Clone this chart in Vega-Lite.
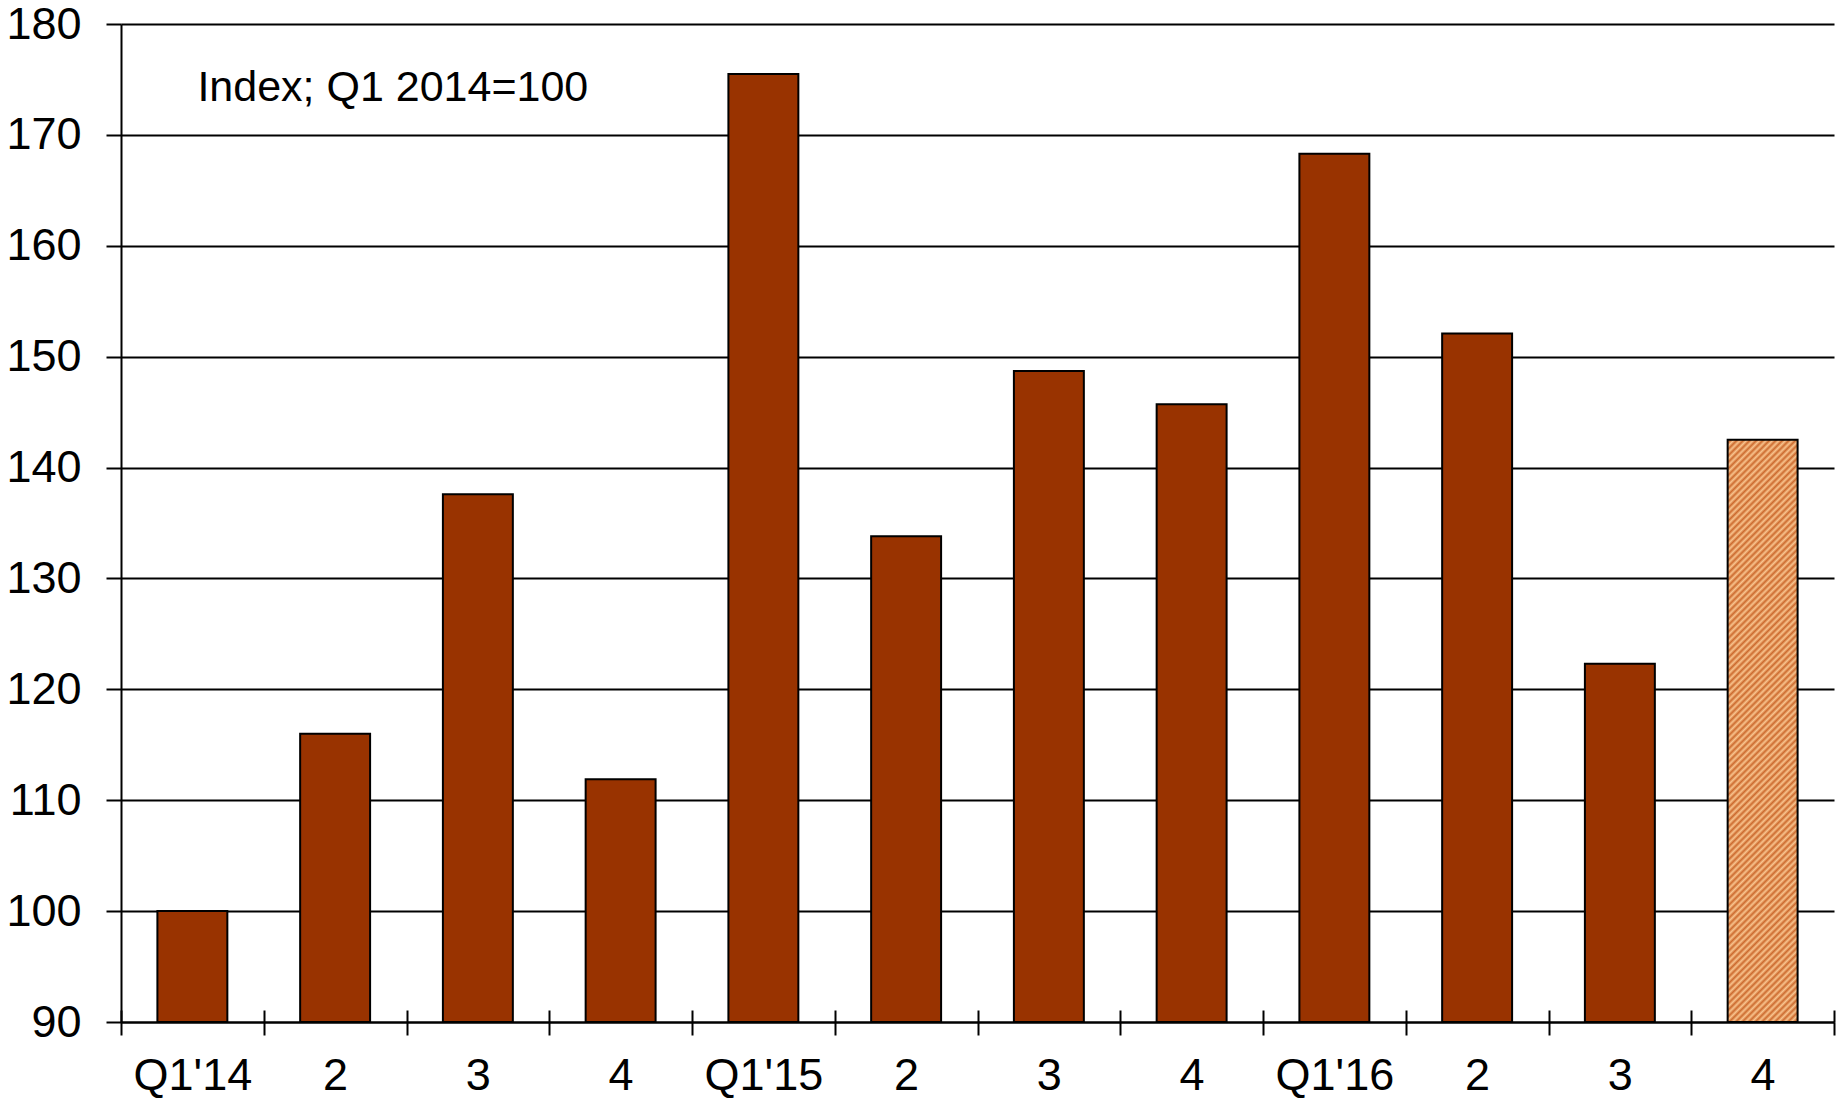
{
  "$schema": "https://vega.github.io/schema/vega-lite/v6.json",
  "width": 1713,
  "height": 998,
  "autosize": {"type": "none"},
  "padding": {"left": 121, "top": 24, "right": 2, "bottom": 79},
  "background": "white",
  "config": {
    "font": "Liberation Sans",
    "view": {"stroke": null}
  },
  "data": {
    "values": [
      {"q": "2014-1", "value": 100, "type": "a"},
      {"q": "2014-2", "value": 116, "type": "a"},
      {"q": "2014-3", "value": 137.6, "type": "a"},
      {"q": "2014-4", "value": 111.9, "type": "a"},
      {"q": "2015-1", "value": 175.5, "type": "a"},
      {"q": "2015-2", "value": 133.8, "type": "a"},
      {"q": "2015-3", "value": 148.7, "type": "a"},
      {"q": "2015-4", "value": 145.7, "type": "a"},
      {"q": "2016-1", "value": 168.3, "type": "a"},
      {"q": "2016-2", "value": 152.1, "type": "a"},
      {"q": "2016-3", "value": 122.3, "type": "a"},
      {"q": "2016-4", "value": 142.5, "type": "f"}
    ]
  },
  "resolve": {"axis": {"x": "independent"}},
  "layer": [
    {
      "transform": [{"filter": "datum.type == 'a'"}],
      "mark": {"type": "bar", "fill": "#993300", "stroke": "black", "strokeWidth": 2, "width": {"band": 0.49}},
      "encoding": {
        "x": {
          "field": "q",
          "type": "nominal",
          "sort": null,
          "scale": {"paddingInner": 0, "paddingOuter": 0},
          "axis": {
            "title": null,
            "orient": "bottom",
            "labelAngle": 0,
            "tickBand": "extent",
            "tickSize": 13,
            "tickWidth": 2,
            "tickColor": "black",
            "domainColor": "black",
            "domainWidth": 2,
            "labelFontSize": 45,
            "labelColor": "black",
            "labelPadding": 18,
            "grid": false,
            "labelExpr": "!isString(datum.value) ? '' : (substring(datum.value,5,6) == '1' ? \"Q1'\" + substring(datum.value,2,4) : substring(datum.value,5,6))"
          }
        },
        "y": {
          "field": "value",
          "type": "quantitative",
          "scale": {"domain": [90, 180], "zero": false, "nice": false},
          "axis": {
            "title": null,
            "values": [90, 100, 110, 120, 130, 140, 150, 160, 170, 180],
            "tickSize": 15,
            "tickWidth": 2,
            "tickColor": "black",
            "domainColor": "black",
            "domainWidth": 2,
            "grid": true,
            "gridColor": "black",
            "gridWidth": 2,
            "labelFontSize": 45,
            "labelColor": "black",
            "labelPadding": 25
          }
        },
        "y2": {"datum": 90}
      }
    },
    {
      "transform": [{"filter": "datum.type == 'f'"}],
      "mark": {
        "type": "bar",
        "stroke": "black",
        "strokeWidth": 2,
        "width": {"band": 0.49},
        "fill": {
          "gradient": "linear",
          "x1": 0, "y1": 0, "x2": 0.1328, "y2": 1.1043,
          "stops": [
            {"offset": 0, "color": "#f9c48e"}, {"offset": 0.005, "color": "#cc6a2e"},
            {"offset": 0.01, "color": "#f9c48e"}, {"offset": 0.015, "color": "#cc6a2e"},
            {"offset": 0.02, "color": "#f9c48e"}, {"offset": 0.025, "color": "#cc6a2e"},
            {"offset": 0.03, "color": "#f9c48e"}, {"offset": 0.035, "color": "#cc6a2e"},
            {"offset": 0.04, "color": "#f9c48e"}, {"offset": 0.045, "color": "#cc6a2e"},
            {"offset": 0.05, "color": "#f9c48e"}, {"offset": 0.055, "color": "#cc6a2e"},
            {"offset": 0.06, "color": "#f9c48e"}, {"offset": 0.065, "color": "#cc6a2e"},
            {"offset": 0.07, "color": "#f9c48e"}, {"offset": 0.075, "color": "#cc6a2e"},
            {"offset": 0.08, "color": "#f9c48e"}, {"offset": 0.085, "color": "#cc6a2e"},
            {"offset": 0.09, "color": "#f9c48e"}, {"offset": 0.095, "color": "#cc6a2e"},
            {"offset": 0.1, "color": "#f9c48e"}, {"offset": 0.105, "color": "#cc6a2e"},
            {"offset": 0.11, "color": "#f9c48e"}, {"offset": 0.115, "color": "#cc6a2e"},
            {"offset": 0.12, "color": "#f9c48e"}, {"offset": 0.125, "color": "#cc6a2e"},
            {"offset": 0.13, "color": "#f9c48e"}, {"offset": 0.135, "color": "#cc6a2e"},
            {"offset": 0.14, "color": "#f9c48e"}, {"offset": 0.145, "color": "#cc6a2e"},
            {"offset": 0.15, "color": "#f9c48e"}, {"offset": 0.155, "color": "#cc6a2e"},
            {"offset": 0.16, "color": "#f9c48e"}, {"offset": 0.165, "color": "#cc6a2e"},
            {"offset": 0.17, "color": "#f9c48e"}, {"offset": 0.175, "color": "#cc6a2e"},
            {"offset": 0.18, "color": "#f9c48e"}, {"offset": 0.185, "color": "#cc6a2e"},
            {"offset": 0.19, "color": "#f9c48e"}, {"offset": 0.195, "color": "#cc6a2e"},
            {"offset": 0.2, "color": "#f9c48e"}, {"offset": 0.205, "color": "#cc6a2e"},
            {"offset": 0.21, "color": "#f9c48e"}, {"offset": 0.215, "color": "#cc6a2e"},
            {"offset": 0.22, "color": "#f9c48e"}, {"offset": 0.225, "color": "#cc6a2e"},
            {"offset": 0.23, "color": "#f9c48e"}, {"offset": 0.235, "color": "#cc6a2e"},
            {"offset": 0.24, "color": "#f9c48e"}, {"offset": 0.245, "color": "#cc6a2e"},
            {"offset": 0.25, "color": "#f9c48e"}, {"offset": 0.255, "color": "#cc6a2e"},
            {"offset": 0.26, "color": "#f9c48e"}, {"offset": 0.265, "color": "#cc6a2e"},
            {"offset": 0.27, "color": "#f9c48e"}, {"offset": 0.275, "color": "#cc6a2e"},
            {"offset": 0.28, "color": "#f9c48e"}, {"offset": 0.285, "color": "#cc6a2e"},
            {"offset": 0.29, "color": "#f9c48e"}, {"offset": 0.295, "color": "#cc6a2e"},
            {"offset": 0.3, "color": "#f9c48e"}, {"offset": 0.305, "color": "#cc6a2e"},
            {"offset": 0.31, "color": "#f9c48e"}, {"offset": 0.315, "color": "#cc6a2e"},
            {"offset": 0.32, "color": "#f9c48e"}, {"offset": 0.325, "color": "#cc6a2e"},
            {"offset": 0.33, "color": "#f9c48e"}, {"offset": 0.335, "color": "#cc6a2e"},
            {"offset": 0.34, "color": "#f9c48e"}, {"offset": 0.345, "color": "#cc6a2e"},
            {"offset": 0.35, "color": "#f9c48e"}, {"offset": 0.355, "color": "#cc6a2e"},
            {"offset": 0.36, "color": "#f9c48e"}, {"offset": 0.365, "color": "#cc6a2e"},
            {"offset": 0.37, "color": "#f9c48e"}, {"offset": 0.375, "color": "#cc6a2e"},
            {"offset": 0.38, "color": "#f9c48e"}, {"offset": 0.385, "color": "#cc6a2e"},
            {"offset": 0.39, "color": "#f9c48e"}, {"offset": 0.395, "color": "#cc6a2e"},
            {"offset": 0.4, "color": "#f9c48e"}, {"offset": 0.405, "color": "#cc6a2e"},
            {"offset": 0.41, "color": "#f9c48e"}, {"offset": 0.415, "color": "#cc6a2e"},
            {"offset": 0.42, "color": "#f9c48e"}, {"offset": 0.425, "color": "#cc6a2e"},
            {"offset": 0.43, "color": "#f9c48e"}, {"offset": 0.435, "color": "#cc6a2e"},
            {"offset": 0.44, "color": "#f9c48e"}, {"offset": 0.445, "color": "#cc6a2e"},
            {"offset": 0.45, "color": "#f9c48e"}, {"offset": 0.455, "color": "#cc6a2e"},
            {"offset": 0.46, "color": "#f9c48e"}, {"offset": 0.465, "color": "#cc6a2e"},
            {"offset": 0.47, "color": "#f9c48e"}, {"offset": 0.475, "color": "#cc6a2e"},
            {"offset": 0.48, "color": "#f9c48e"}, {"offset": 0.485, "color": "#cc6a2e"},
            {"offset": 0.49, "color": "#f9c48e"}, {"offset": 0.495, "color": "#cc6a2e"},
            {"offset": 0.5, "color": "#f9c48e"}, {"offset": 0.505, "color": "#cc6a2e"},
            {"offset": 0.51, "color": "#f9c48e"}, {"offset": 0.515, "color": "#cc6a2e"},
            {"offset": 0.52, "color": "#f9c48e"}, {"offset": 0.525, "color": "#cc6a2e"},
            {"offset": 0.53, "color": "#f9c48e"}, {"offset": 0.535, "color": "#cc6a2e"},
            {"offset": 0.54, "color": "#f9c48e"}, {"offset": 0.545, "color": "#cc6a2e"},
            {"offset": 0.55, "color": "#f9c48e"}, {"offset": 0.555, "color": "#cc6a2e"},
            {"offset": 0.56, "color": "#f9c48e"}, {"offset": 0.565, "color": "#cc6a2e"},
            {"offset": 0.57, "color": "#f9c48e"}, {"offset": 0.575, "color": "#cc6a2e"},
            {"offset": 0.58, "color": "#f9c48e"}, {"offset": 0.585, "color": "#cc6a2e"},
            {"offset": 0.59, "color": "#f9c48e"}, {"offset": 0.595, "color": "#cc6a2e"},
            {"offset": 0.6, "color": "#f9c48e"}, {"offset": 0.605, "color": "#cc6a2e"},
            {"offset": 0.61, "color": "#f9c48e"}, {"offset": 0.615, "color": "#cc6a2e"},
            {"offset": 0.62, "color": "#f9c48e"}, {"offset": 0.625, "color": "#cc6a2e"},
            {"offset": 0.63, "color": "#f9c48e"}, {"offset": 0.635, "color": "#cc6a2e"},
            {"offset": 0.64, "color": "#f9c48e"}, {"offset": 0.645, "color": "#cc6a2e"},
            {"offset": 0.65, "color": "#f9c48e"}, {"offset": 0.655, "color": "#cc6a2e"},
            {"offset": 0.66, "color": "#f9c48e"}, {"offset": 0.665, "color": "#cc6a2e"},
            {"offset": 0.67, "color": "#f9c48e"}, {"offset": 0.675, "color": "#cc6a2e"},
            {"offset": 0.68, "color": "#f9c48e"}, {"offset": 0.685, "color": "#cc6a2e"},
            {"offset": 0.69, "color": "#f9c48e"}, {"offset": 0.695, "color": "#cc6a2e"},
            {"offset": 0.7, "color": "#f9c48e"}, {"offset": 0.705, "color": "#cc6a2e"},
            {"offset": 0.71, "color": "#f9c48e"}, {"offset": 0.715, "color": "#cc6a2e"},
            {"offset": 0.72, "color": "#f9c48e"}, {"offset": 0.725, "color": "#cc6a2e"},
            {"offset": 0.73, "color": "#f9c48e"}, {"offset": 0.735, "color": "#cc6a2e"},
            {"offset": 0.74, "color": "#f9c48e"}, {"offset": 0.745, "color": "#cc6a2e"},
            {"offset": 0.75, "color": "#f9c48e"}, {"offset": 0.755, "color": "#cc6a2e"},
            {"offset": 0.76, "color": "#f9c48e"}, {"offset": 0.765, "color": "#cc6a2e"},
            {"offset": 0.77, "color": "#f9c48e"}, {"offset": 0.775, "color": "#cc6a2e"},
            {"offset": 0.78, "color": "#f9c48e"}, {"offset": 0.785, "color": "#cc6a2e"},
            {"offset": 0.79, "color": "#f9c48e"}, {"offset": 0.795, "color": "#cc6a2e"},
            {"offset": 0.8, "color": "#f9c48e"}, {"offset": 0.805, "color": "#cc6a2e"},
            {"offset": 0.81, "color": "#f9c48e"}, {"offset": 0.815, "color": "#cc6a2e"},
            {"offset": 0.82, "color": "#f9c48e"}, {"offset": 0.825, "color": "#cc6a2e"},
            {"offset": 0.83, "color": "#f9c48e"}, {"offset": 0.835, "color": "#cc6a2e"},
            {"offset": 0.84, "color": "#f9c48e"}, {"offset": 0.845, "color": "#cc6a2e"},
            {"offset": 0.85, "color": "#f9c48e"}, {"offset": 0.855, "color": "#cc6a2e"},
            {"offset": 0.86, "color": "#f9c48e"}, {"offset": 0.865, "color": "#cc6a2e"},
            {"offset": 0.87, "color": "#f9c48e"}, {"offset": 0.875, "color": "#cc6a2e"},
            {"offset": 0.88, "color": "#f9c48e"}, {"offset": 0.885, "color": "#cc6a2e"},
            {"offset": 0.89, "color": "#f9c48e"}, {"offset": 0.895, "color": "#cc6a2e"},
            {"offset": 0.9, "color": "#f9c48e"}, {"offset": 0.905, "color": "#cc6a2e"},
            {"offset": 0.91, "color": "#f9c48e"}, {"offset": 0.915, "color": "#cc6a2e"},
            {"offset": 0.92, "color": "#f9c48e"}, {"offset": 0.925, "color": "#cc6a2e"},
            {"offset": 0.93, "color": "#f9c48e"}, {"offset": 0.935, "color": "#cc6a2e"},
            {"offset": 0.94, "color": "#f9c48e"}, {"offset": 0.945, "color": "#cc6a2e"},
            {"offset": 0.95, "color": "#f9c48e"}, {"offset": 0.955, "color": "#cc6a2e"},
            {"offset": 0.96, "color": "#f9c48e"}, {"offset": 0.965, "color": "#cc6a2e"},
            {"offset": 0.97, "color": "#f9c48e"}, {"offset": 0.975, "color": "#cc6a2e"},
            {"offset": 0.98, "color": "#f9c48e"}, {"offset": 0.985, "color": "#cc6a2e"},
            {"offset": 0.99, "color": "#f9c48e"}, {"offset": 0.995, "color": "#cc6a2e"},
            {"offset": 1, "color": "#f9c48e"}
          ]
        }
      },
      "encoding": {
        "x": {
          "field": "q",
          "type": "nominal",
          "sort": null,
          "axis": {
            "title": null,
            "orient": "bottom",
            "tickBand": "extent",
            "tickSize": -12,
            "tickWidth": 2,
            "tickColor": "black",
            "domain": false,
            "labels": false,
            "grid": false
          }
        },
        "y": {"field": "value", "type": "quantitative"},
        "y2": {"datum": 90}
      }
    },
    {
      "data": {"values": [{"label": "Index; Q1 2014=100"}]},
      "mark": {"type": "text", "align": "left", "baseline": "alphabetic", "dx": 5, "fontSize": 43, "color": "black", "font": "Liberation Sans"},
      "encoding": {
        "x": {"datum": "2014-1", "type": "nominal", "axis": null},
        "y": {"datum": 173.1, "type": "quantitative"},
        "text": {"field": "label"}
      }
    }
  ]
}
